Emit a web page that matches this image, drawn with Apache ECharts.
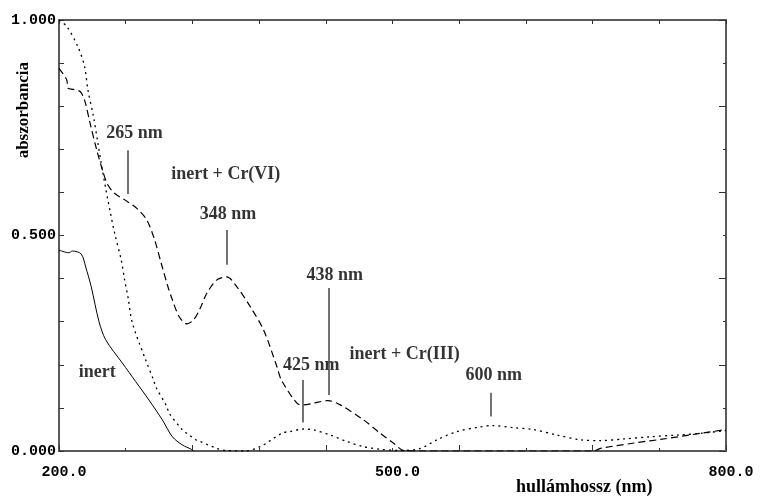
<!DOCTYPE html>
<html>
<head>
<meta charset="utf-8">
<script src="https://cdn.jsdelivr.net/npm/echarts@6/dist/echarts.min.js"></script>
<style>
  html, body { margin: 0; padding: 0; background: #fff; }
  #chart { width: 766px; height: 496px; }
</style>
</head>
<body>
<div id="chart"></div>
<script>
// spectra: [wavelength nm, absorbance]
const inert = [
  [200, 0.466], [209, 0.460], [212, 0.464], [220, 0.457], [224, 0.427], [229, 0.381],
  [236, 0.300], [242, 0.258], [257, 0.204], [269, 0.161], [281, 0.118], [293, 0.072],
  [302, 0.033], [311, 0.014], [319, 0.004], [321, 0.0]
];
const inertCr3 = [
  [200, 1.0], [207, 0.985], [217, 0.938], [223, 0.892], [226, 0.838], [231, 0.776],
  [235, 0.714], [238, 0.667], [244, 0.582], [250, 0.506], [256, 0.443], [259, 0.397],
  [262, 0.358], [266, 0.297], [278, 0.211], [285, 0.165], [287, 0.149], [297, 0.103],
  [299, 0.088], [311, 0.049], [315, 0.041], [323, 0.026], [327, 0.022], [342, 0.006],
  [351, 0.001], [367, 0.0], [381, 0.010], [401, 0.042], [408, 0.045], [420, 0.051],
  [429, 0.049], [444, 0.037], [459, 0.022], [474, 0.010], [489, 0.004], [507, 0.001],
  [525, 0.006], [540, 0.026], [558, 0.045], [579, 0.056], [590, 0.059], [609, 0.054],
  [626, 0.050], [648, 0.037], [669, 0.026], [687, 0.024], [708, 0.028], [732, 0.033],
  [756, 0.037], [777, 0.041], [798, 0.047], [800, 0.048]
];
const inertCr6 = [
  [200, 0.888], [207, 0.861], [208, 0.842], [213, 0.839], [219, 0.834], [223, 0.814],
  [228, 0.760], [234, 0.698], [240, 0.644], [244, 0.617], [250, 0.598], [262, 0.578],
  [270, 0.563], [279, 0.536], [286, 0.490], [292, 0.435], [298, 0.381], [301, 0.358],
  [308, 0.312], [315, 0.295], [321, 0.304], [327, 0.331], [333, 0.366], [342, 0.397],
  [351, 0.404], [360, 0.381], [372, 0.335], [384, 0.281], [396, 0.196], [400, 0.165],
  [414, 0.111], [420, 0.107], [429, 0.111], [442, 0.117], [453, 0.107], [474, 0.072],
  [489, 0.041], [501, 0.018], [510, 0.001], [520, 0.0], [600, 0.0], [681, 0.0],
  [687, 0.006], [716, 0.018], [747, 0.029], [777, 0.041], [798, 0.049], [800, 0.050]
];

// annotation texts and their leader lines (data coords)
const noteTexts = ['265 nm', 'inert + Cr(VI)', '348 nm', '438 nm', '425 nm', 'inert + Cr(III)', '600 nm', 'inert'];
const notePos = [[268, 0.737], [350, 0.643], [352, 0.548], [448, 0.408], [427, 0.198], [511, 0.225], [591, 0.175], [234.5, 0.182]];
const leaderX = [262, 351, 443, 419, 588];
const leaderTop = [0.698, 0.513, 0.378, 0.165, 0.135];
const leaderBottom = [0.596, 0.432, 0.130, 0.066, 0.080];

const xLabels = [200, 500, 800];
const yLabels = [0, 0.5, 1];

var chart = echarts.init(document.getElementById('chart'));

var tickFont = { fontFamily: 'Liberation Mono', fontWeight: 'bold', fontSize: 15, color: '#000' };
var noteFont = { fontFamily: 'Liberation Serif', fontWeight: 'bold', fontSize: 18, color: '#000' };
var axisGray = { color: '#5a5a5a', width: 2 };

var option = {
  animation: false,
  grid: { left: 59, right: 40, top: 20, bottom: 45 },
  xAxis: [
    {
      type: 'value', min: 200, max: 800, interval: 120, position: 'bottom',
      axisLine: { show: true, lineStyle: axisGray },
      axisTick: { show: true, inside: true, length: 6, lineStyle: { color: '#333' } },
      minorTick: { show: true, splitNumber: 2, length: 3, lineStyle: { color: '#333' } },
      axisLabel: { show: false },
      splitLine: { show: false }
    },
    {
      type: 'value', min: 200, max: 800, interval: 60, position: 'top',
      axisLine: { show: true, onZero: false, lineStyle: axisGray },
      axisTick: { show: true, inside: true, length: 4, lineStyle: { color: '#333' } },
      axisLabel: { show: false },
      splitLine: { show: false }
    },
    {
      type: 'value', min: 200, max: 800, interval: 300, position: 'bottom',
      axisLine: { show: false }, axisTick: { show: false }, splitLine: { show: false },
      axisLabel: Object.assign({
        margin: 14,
        padding: [0, 0, 0, 10],
        formatter: function (v) { return xLabels.indexOf(v) >= 0 ? v.toFixed(1) : ''; }
      }, tickFont)
    }
  ],
  yAxis: [
    {
      type: 'value', min: 0, max: 1, interval: 0.1, position: 'left',
      axisLine: { show: true, lineStyle: axisGray },
      axisTick: { show: true, inside: true, length: 5, lineStyle: { color: '#333' } },
      axisLabel: Object.assign({
        margin: 3,
        formatter: function (v) {
          var r = Math.round(v * 10) / 10;
          return yLabels.indexOf(r) >= 0 ? r.toFixed(3) : '';
        }
      }, tickFont),
      splitLine: { show: false }
    },
    {
      type: 'value', min: 0, max: 1, interval: 0.2, position: 'right',
      axisLine: { show: true, lineStyle: axisGray },
      axisTick: { show: true, inside: true, length: 7, lineStyle: { color: '#333' } },
      minorTick: { show: true, splitNumber: 2, length: 3, lineStyle: { color: '#333' } },
      axisLabel: { show: false },
      splitLine: { show: false }
    }
  ],
  graphic: [
    {
      type: 'text', left: 15, top: 62, rotation: Math.PI / 2, originX: 0, originY: 0,
      style: Object.assign({ text: 'abszorbancia' }, noteFont, { fontSize: 17 })
    },
    {
      type: 'text', left: 516, top: 478,
      style: Object.assign({ text: 'hullámhossz (nm)' }, noteFont)
    }
  ],
  series: [
    {
      name: 'inert', type: 'line', data: inert, showSymbol: false, smooth: 0.3,
      lineStyle: { color: '#000', width: 1 }
    },
    {
      name: 'inert + Cr(III)', type: 'line', data: inertCr3, showSymbol: false, smooth: 0.3,
      lineStyle: { color: '#000', width: 1.3, type: [2, 4] }
    },
    {
      name: 'inert + Cr(VI)', type: 'line', data: inertCr6, showSymbol: false, smooth: 0.3,
      lineStyle: { color: '#000', width: 1.2, type: [7, 4] }
    },
    {
      name: 'notes', type: 'scatter', symbolSize: 0, silent: true,
      data: notePos.map(function (p, i) { return { value: p, name: noteTexts[i] }; }),
      label: Object.assign({ show: true, position: 'inside', formatter: '{b}' }, noteFont),
      markLine: {
        symbol: 'none', silent: true, label: { show: false },
        lineStyle: { color: '#444', width: 1.5, type: 'solid' },
        data: leaderX.map(function (x, i) {
          return [{ coord: [x, leaderTop[i]] }, { coord: [x, leaderBottom[i]] }];
        })
      }
    }
  ]
};

chart.setOption(option);
</script>
</body>
</html>
